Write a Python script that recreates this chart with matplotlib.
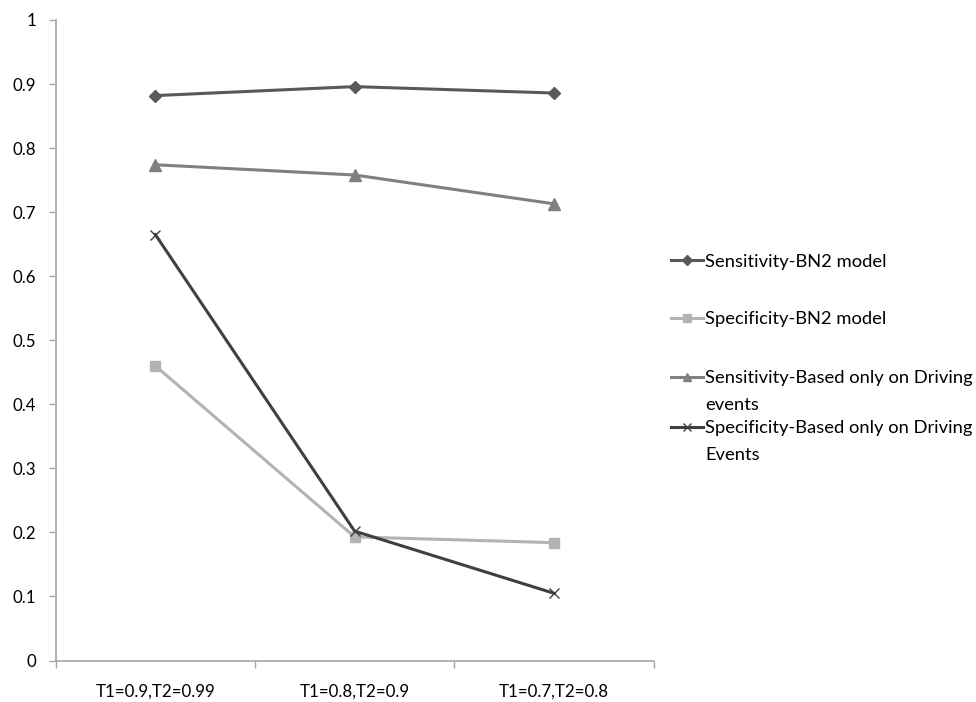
import textwrap
import matplotlib
matplotlib.use("Agg")
import matplotlib.pyplot as plt
from matplotlib.lines import Line2D

categories = ["T1=0.9,T2=0.99", "T1=0.8,T2=0.9", "T1=0.7,T2=0.8"]
sens_bn2 = [0.882, 0.896, 0.886]
spec_bn2 = [0.460, 0.193, 0.184]
sens_driving = [0.774, 0.758, 0.713]
spec_driving = [0.665, 0.202, 0.105]
series_names = ["Sensitivity-BN2 model", "Specificity-BN2 model",
                "Sensitivity-Based only on Driving events",
                "Specificity-Based only on Driving Events"]
y_ticks = [0, 0.1, 0.2, 0.3, 0.4, 0.5, 0.6, 0.7, 0.8, 0.9, 1]
y_tick_labels = ["0", "0.1", "0.2", "0.3", "0.4", "0.5", "0.6", "0.7", "0.8", "0.9", "1"]

plt.rcParams['font.family'] = ['Lato', 'DejaVu Sans']
FS = 12.2
LFS = 13.2

W, H = 976, 702
fig = plt.figure(figsize=(W / 100, H / 100), dpi=100)
ax = fig.add_axes([55.7 / W, 1 - 660.5 / H, (653.5 - 55.7) / W, (660.5 - 20) / H])

styles = [
    dict(color="#595959", marker="D", markersize=6.5, mec="#595959", mfc="#595959"),
    dict(color="#B3B3B3", marker="s", markersize=7.5, mec="#B3B3B3", mfc="#B3B3B3"),
    dict(color="#808080", marker="^", markersize=8, mec="#808080", mfc="#808080"),
    dict(color="#404040", marker="x", markersize=7.5, mec="#404040", mew=1.0),
]
series = [sens_bn2, spec_bn2, sens_driving, spec_driving]
x = list(range(len(categories)))
handles = []
for vals, st, name in zip(series, styles, series_names):
    ln, = ax.plot(x, vals, linewidth=2.2, label=name, **st)
    handles.append(ln)

ax.set_ylim(0, 1)
ax.set_xlim(-0.5, len(categories) - 0.5)
ax.set_yticks(y_ticks)
ax.set_yticklabels(y_tick_labels, fontsize=FS, color="#000000")
ax.set_xticks([i - 0.5 for i in range(len(categories) + 1)])
ax.set_xticklabels([])
ax.set_xticks(x, minor=True)
ax.set_xticklabels(categories, minor=True, fontsize=FS)
ax.tick_params(axis="x", which="minor", length=0, pad=17)
ax.tick_params(axis="x", which="major", length=5, direction="out", color="#A6A6A6", width=1)
ax.tick_params(axis="y", length=5, direction="out", color="#A6A6A6", width=1, pad=9)
for s in ["top", "right"]:
    ax.spines[s].set_visible(False)
for s in ["left", "bottom"]:
    ax.spines[s].set_color("#A6A6A6")
    ax.spines[s].set_linewidth(1.2)

# legend: one entry per box at Excel-like positions (first text line center, px);
# wrapped continuation lines drawn below the first line
entry_y = [261.7, 319.0, 378.0, 428.0]
line_h = 25.3
legs = []
for h, name, yy in zip(handles, series_names, entry_y):
    lines = textwrap.wrap(name, 33)
    proxy = Line2D([0], [0], color=h.get_color(), linewidth=2.2, marker=h.get_marker(),
                   markersize=h.get_markersize() * 0.8, mfc=h.get_markerfacecolor(),
                   mec=h.get_markeredgecolor(), mew=h.get_markeredgewidth())
    leg = fig.legend([proxy], [lines[0]], loc="center left",
                     bbox_to_anchor=(671 / W, 1 - yy / H),
                     frameon=False, fontsize=LFS, handlelength=1.75, handletextpad=0.1,
                     borderpad=0, borderaxespad=0)
    legs.append((leg, lines[1:], yy))

fig.canvas.draw()
r = fig.canvas.get_renderer()
for leg, rest, yy in legs:
    if not rest:
        continue
    bb = leg.get_texts()[0].get_window_extent(r)
    for k, ln in enumerate(rest, start=1):
        fig.text(bb.x0 / W, 1 - (yy + k * line_h) / H, ln, fontsize=LFS,
                 ha="left", va="center_baseline")

fig.savefig("out.png", dpi=100)
